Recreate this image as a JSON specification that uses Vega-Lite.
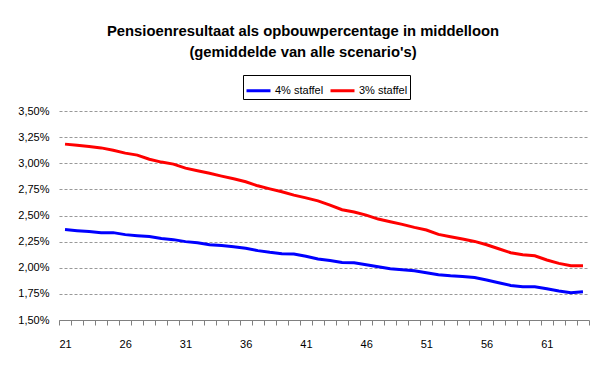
{
  "$schema": "https://vega.github.io/schema/vega-lite/v6.json",
  "width": 530,
  "height": 209,
  "autosize": {"type": "none"},
  "padding": {"left": 59, "top": 111, "right": 16, "bottom": 46},
  "background": "white",
  "title": {
    "text": ["Pensioenresultaat als opbouwpercentage in middelloon", "(gemiddelde van alle scenario's)"],
    "font": "Liberation Sans",
    "fontSize": 14.8,
    "fontWeight": "bold",
    "color": "black",
    "lineHeight": 21,
    "anchor": "middle",
    "dx": -21,
    "offset": 15
  },
  "config": {
    "view": {"stroke": null},
    "font": "Liberation Sans"
  },
  "data": {
    "values": [
      {"age": 21, "series": "4% staffel", "value": 2.365},
      {"age": 22, "series": "4% staffel", "value": 2.355},
      {"age": 23, "series": "4% staffel", "value": 2.346},
      {"age": 24, "series": "4% staffel", "value": 2.336},
      {"age": 25, "series": "4% staffel", "value": 2.336},
      {"age": 26, "series": "4% staffel", "value": 2.317},
      {"age": 27, "series": "4% staffel", "value": 2.307},
      {"age": 28, "series": "4% staffel", "value": 2.298},
      {"age": 29, "series": "4% staffel", "value": 2.279},
      {"age": 30, "series": "4% staffel", "value": 2.269},
      {"age": 31, "series": "4% staffel", "value": 2.25},
      {"age": 32, "series": "4% staffel", "value": 2.24},
      {"age": 33, "series": "4% staffel", "value": 2.221},
      {"age": 34, "series": "4% staffel", "value": 2.212},
      {"age": 35, "series": "4% staffel", "value": 2.202},
      {"age": 36, "series": "4% staffel", "value": 2.186},
      {"age": 37, "series": "4% staffel", "value": 2.164},
      {"age": 38, "series": "4% staffel", "value": 2.148},
      {"age": 39, "series": "4% staffel", "value": 2.135},
      {"age": 40, "series": "4% staffel", "value": 2.132},
      {"age": 41, "series": "4% staffel", "value": 2.11},
      {"age": 42, "series": "4% staffel", "value": 2.084},
      {"age": 43, "series": "4% staffel", "value": 2.069},
      {"age": 44, "series": "4% staffel", "value": 2.051},
      {"age": 45, "series": "4% staffel", "value": 2.048},
      {"age": 46, "series": "4% staffel", "value": 2.029},
      {"age": 47, "series": "4% staffel", "value": 2.01},
      {"age": 48, "series": "4% staffel", "value": 1.99},
      {"age": 49, "series": "4% staffel", "value": 1.981},
      {"age": 50, "series": "4% staffel", "value": 1.971},
      {"age": 51, "series": "4% staffel", "value": 1.952},
      {"age": 52, "series": "4% staffel", "value": 1.933},
      {"age": 53, "series": "4% staffel", "value": 1.923},
      {"age": 54, "series": "4% staffel", "value": 1.917},
      {"age": 55, "series": "4% staffel", "value": 1.907},
      {"age": 56, "series": "4% staffel", "value": 1.882},
      {"age": 57, "series": "4% staffel", "value": 1.856},
      {"age": 58, "series": "4% staffel", "value": 1.831},
      {"age": 59, "series": "4% staffel", "value": 1.818},
      {"age": 60, "series": "4% staffel", "value": 1.818},
      {"age": 61, "series": "4% staffel", "value": 1.799},
      {"age": 62, "series": "4% staffel", "value": 1.777},
      {"age": 63, "series": "4% staffel", "value": 1.761},
      {"age": 64, "series": "4% staffel", "value": 1.77},
      {"age": 21, "series": "3% staffel", "value": 3.183},
      {"age": 22, "series": "3% staffel", "value": 3.173},
      {"age": 23, "series": "3% staffel", "value": 3.16},
      {"age": 24, "series": "3% staffel", "value": 3.147},
      {"age": 25, "series": "3% staffel", "value": 3.125},
      {"age": 26, "series": "3% staffel", "value": 3.097},
      {"age": 27, "series": "3% staffel", "value": 3.078},
      {"age": 28, "series": "3% staffel", "value": 3.038},
      {"age": 29, "series": "3% staffel", "value": 3.011},
      {"age": 30, "series": "3% staffel", "value": 2.992},
      {"age": 31, "series": "3% staffel", "value": 2.953},
      {"age": 32, "series": "3% staffel", "value": 2.928},
      {"age": 33, "series": "3% staffel", "value": 2.905},
      {"age": 34, "series": "3% staffel", "value": 2.877},
      {"age": 35, "series": "3% staffel", "value": 2.851},
      {"age": 36, "series": "3% staffel", "value": 2.823},
      {"age": 37, "series": "3% staffel", "value": 2.784},
      {"age": 38, "series": "3% staffel", "value": 2.755},
      {"age": 39, "series": "3% staffel", "value": 2.727},
      {"age": 40, "series": "3% staffel", "value": 2.695},
      {"age": 41, "series": "3% staffel", "value": 2.669},
      {"age": 42, "series": "3% staffel", "value": 2.64},
      {"age": 43, "series": "3% staffel", "value": 2.6},
      {"age": 44, "series": "3% staffel", "value": 2.555},
      {"age": 45, "series": "3% staffel", "value": 2.533},
      {"age": 46, "series": "3% staffel", "value": 2.504},
      {"age": 47, "series": "3% staffel", "value": 2.466},
      {"age": 48, "series": "3% staffel", "value": 2.44},
      {"age": 49, "series": "3% staffel", "value": 2.415},
      {"age": 50, "series": "3% staffel", "value": 2.386},
      {"age": 51, "series": "3% staffel", "value": 2.361},
      {"age": 52, "series": "3% staffel", "value": 2.319},
      {"age": 53, "series": "3% staffel", "value": 2.297},
      {"age": 54, "series": "3% staffel", "value": 2.275},
      {"age": 55, "series": "3% staffel", "value": 2.252},
      {"age": 56, "series": "3% staffel", "value": 2.22},
      {"age": 57, "series": "3% staffel", "value": 2.182},
      {"age": 58, "series": "3% staffel", "value": 2.144},
      {"age": 59, "series": "3% staffel", "value": 2.125},
      {"age": 60, "series": "3% staffel", "value": 2.115},
      {"age": 61, "series": "3% staffel", "value": 2.074},
      {"age": 62, "series": "3% staffel", "value": 2.042},
      {"age": 63, "series": "3% staffel", "value": 2.02},
      {"age": 64, "series": "3% staffel", "value": 2.02}
    ]
  },
  "mark": {"type": "line", "strokeWidth": 3, "interpolate": "linear"},
  "encoding": {
    "x": {
      "field": "age",
      "type": "quantitative",
      "scale": {"domain": [20.5, 64.5], "nice": false, "zero": false},
      "axis": {
        "title": null,
        "grid": false,
        "values": [20.5, 21.5, 22.5, 23.5, 24.5, 25.5, 26.5, 27.5, 28.5, 29.5, 30.5, 31.5, 32.5, 33.5, 34.5, 35.5, 36.5, 37.5, 38.5, 39.5, 40.5, 41.5, 42.5, 43.5, 44.5, 45.5, 46.5, 47.5, 48.5, 49.5, 50.5, 51.5, 52.5, 53.5, 54.5, 55.5, 56.5, 57.5, 58.5, 59.5, 60.5, 61.5, 62.5, 63.5, 64.5],
        "labelExpr": "(datum.value - 0.5) % 5 == 0 && datum.value < 64 ? toString(datum.value + 0.5) : ''",
        "labelOffset": 6,
        "labelOverlap": false,
        "labelFlush": false,
        "labelBound": false,
        "labelFont": "Liberation Sans",
        "labelFontSize": 11,
        "labelColor": "black",
        "labelPadding": 13,
        "domainColor": "#808080",
        "domainWidth": 1,
        "tickColor": "#808080",
        "tickSize": 5,
        "tickWidth": 1
      }
    },
    "y": {
      "field": "value",
      "type": "quantitative",
      "scale": {"domain": [1.5, 3.5], "nice": false, "zero": false},
      "axis": {
        "title": null,
        "values": [1.5, 1.75, 2, 2.25, 2.5, 2.75, 3, 3.25, 3.5],
        "labelExpr": "replace(format(datum.value, '.2f'), '.', ',') + '%'",
        "domain": false,
        "ticks": false,
        "grid": true,
        "gridColor": "#999999",
        "gridDash": [3, 2],
        "gridWidth": 1,
        "labelFont": "Liberation Sans",
        "labelFontSize": 11,
        "labelColor": "black",
        "labelPadding": 10
      }
    },
    "color": {
      "field": "series",
      "type": "nominal",
      "scale": {"domain": ["4% staffel", "3% staffel"], "range": ["#0000FF", "#FF0000"]},
      "legend": {
        "title": null,
        "orient": "none",
        "legendX": 184,
        "legendY": -36,
        "direction": "horizontal",
        "symbolType": "stroke",
        "symbolSize": 576,
        "symbolStrokeWidth": 3,
        "labelFont": "Liberation Sans",
        "labelFontSize": 11,
        "labelColor": "black",
        "labelOffset": 3,
        "columnPadding": 0,
        "padding": 2,
        "strokeColor": "black",
        "fillColor": "white"
      }
    }
  }
}
